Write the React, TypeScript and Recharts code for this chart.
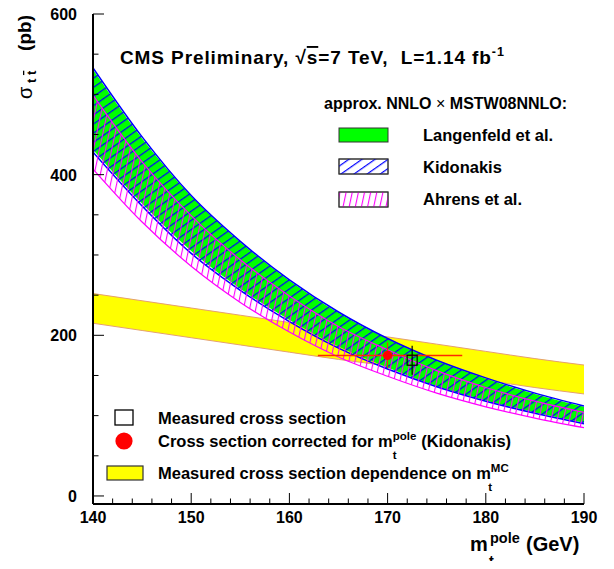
import React from "react"
import { ComposedChart, Area, Scatter, ErrorBar, XAxis, YAxis } from "recharts"

// top mass (GeV) and cross sections (pb)
const masses = [140, 145, 150, 155, 160, 165, 170, 175, 180, 185, 190]
const langenfeldLow = [431, 364, 305, 258, 219, 186, 160, 137, 119, 104, 91]
const langenfeldHigh = [531, 445, 373, 316, 268, 228, 195, 168, 146, 127, 111]
const kidonakisLow = [428, 361, 302, 256, 217, 184, 158, 136, 118, 103, 90]
const kidonakisHigh = [533, 447, 374, 317, 269, 229, 196, 169, 147, 128, 112]
const ahrensLow = [407, 341, 286, 241, 204, 173, 149, 128, 111, 97, 85]
const ahrensHigh = [499, 416, 349, 294, 249, 211, 182, 156, 135, 118, 104]
const measuredLow = [215, 206, 197, 188, 179, 170, 162, 153, 144, 135, 127]
const measuredHigh = [252, 243, 234, 225, 216, 207, 198, 189, 180, 171, 163]

const measuredPoint = [{ m: 172.5, v: 169, ey: 18 }]
const correctedPoint = [{ m: 170, v: 175, ex: [7.1, 7.6], ey: 16 }]

const xTicks = [140, 142, 144, 146, 148, 150, 152, 154, 156, 158, 160, 162, 164, 166, 168, 170, 172, 174, 176, 178, 180, 182, 184, 186, 188, 190]
const yTicks = [0, 50, 100, 150, 200, 250, 300, 350, 400, 450, 500, 550, 600]

const font = "'Liberation Sans', Arial, Helvetica, sans-serif"

const bandData = masses.map((m, i) => ({
  m,
  lang: [langenfeldLow[i], langenfeldHigh[i]],
  kid: [kidonakisLow[i], kidonakisHigh[i]],
  ahr: [ahrensLow[i], ahrensHigh[i]],
  meas: [measuredLow[i], measuredHigh[i]],
}))

function XTick(props: any) {
  const { x, y, payload } = props
  const major = payload.value % 10 === 0
  return (
    <g>
      <line x1={x} x2={x} y1={y} y2={y - (major ? 11 : 5.5)} stroke="#000" strokeWidth={1} />
      {major && (
        <text x={x} y={y + 19} textAnchor="middle" fontSize={16} fontWeight="bold" fontFamily={font}>
          {payload.value}
        </text>
      )}
    </g>
  )
}

function YTick(props: any) {
  const { x, y, payload } = props
  const major = payload.value % 200 === 0
  return (
    <g>
      <line x1={x} x2={x + (major ? 11 : 5.5)} y1={y} y2={y} stroke="#000" strokeWidth={1} />
      {major && (
        <text x={x - 16} y={y + 6} textAnchor="end" fontSize={16} fontWeight="bold" fontFamily={font}>
          {payload.value}
        </text>
      )}
    </g>
  )
}

const txt = { fontFamily: font, fontWeight: "bold" as const, xmlSpace: "preserve" }

export default function App() {
  return (
    <div style={{ position: "relative", width: 600, height: 561, marginTop: -8 }}>
      <svg width={0} height={0} style={{ position: "absolute" }}>
        <defs>
          <pattern id="hatchBlue" patternUnits="userSpaceOnUse" width={7.5} height={7.5} patternTransform="rotate(-35)">
            <rect x={0} y={0} width={7.5} height={1.2} fill="#0000ff" />
          </pattern>
          <pattern id="hatchMag" patternUnits="userSpaceOnUse" width={6} height={6} patternTransform="rotate(12)">
            <rect x={0} y={0} width={1.1} height={6} fill="#ff00ff" />
          </pattern>
        </defs>
      </svg>
      <ComposedChart width={600} height={561} data={bandData} margin={{ top: 14, right: 24, bottom: 27, left: 25 }}>
        <XAxis
          dataKey="m"
          type="number"
          domain={[140, 190]}
          allowDataOverflow
          ticks={xTicks}
          interval={0}
          tick={XTick}
          tickLine={false}
          tickSize={0}
          tickMargin={0}
          height={30}
          axisLine={{ stroke: "#000", strokeWidth: 2 }}
        />
        <XAxis xAxisId="top" orientation="top" type="number" domain={[140, 190]} tick={false} tickLine={false} height={0} axisLine={{ stroke: "#000", strokeWidth: 1.2 }} />
        <YAxis
          type="number"
          domain={[-10, 600]}
          allowDataOverflow
          ticks={yTicks}
          interval={0}
          tick={YTick}
          tickLine={false}
          tickSize={0}
          tickMargin={0}
          width={60}
          axisLine={{ stroke: "#000", strokeWidth: 2 }}
        />
        <YAxis yAxisId="right" orientation="right" type="number" domain={[-10, 600]} tick={false} tickLine={false} width={0} axisLine={{ stroke: "#000", strokeWidth: 1.2 }} />

        <Area dataKey="meas" type="monotone" fill="#ffff00" fillOpacity={1} stroke="#e5a070" strokeWidth={1} isAnimationActive={false} />
        <Area dataKey="lang" type="monotone" fill="#00ff00" fillOpacity={1} stroke="none" isAnimationActive={false} />
        <Area dataKey="kid" type="monotone" fill="url(#hatchBlue)" fillOpacity={1} stroke="#0000ff" strokeWidth={1.5} isAnimationActive={false} />
        <Area dataKey="ahr" type="monotone" fill="url(#hatchMag)" fillOpacity={1} stroke="#ff00ff" strokeWidth={1.2} isAnimationActive={false} />

        <Scatter
          data={correctedPoint}
          dataKey="v"
          isAnimationActive={false}
          shape={(p: any) => <circle cx={p.cx} cy={p.cy} r={4.7} fill="#ff0000" />}
        >
          <ErrorBar dataKey="ex" direction="x" width={0} stroke="#ff2a00" strokeWidth={1.5} />
          <ErrorBar dataKey="ey" direction="y" width={0} stroke="#ff2a00" strokeWidth={1} />
        </Scatter>
        <Scatter
          data={measuredPoint}
          dataKey="v"
          isAnimationActive={false}
          shape={(p: any) => <rect x={p.cx - 5} y={p.cy - 5} width={10} height={10} fill="none" stroke="#000" strokeWidth={1.2} />}
        >
          <ErrorBar dataKey="ey" direction="y" width={0} stroke="#000" strokeWidth={1.2} />
        </Scatter>
      </ComposedChart>

      <svg width={614} height={569} style={{ position: "absolute", left: -8, top: 0, pointerEvents: "none" }}>
        <text x={120} y={64} fontSize={19} letterSpacing={0.9} {...txt}>
          CMS Preliminary, √<tspan textDecoration="overline">s</tspan>=7 TeV,  L=1.14 fb<tspan dy={-8} fontSize={12.5}>-1</tspan>
        </text>

        <text x={324} y={109} fontSize={16} {...txt}>
          approx. NNLO <tspan fontWeight="normal">×</tspan> MSTW08NNLO:
        </text>
        <rect x={339} y={128} width={49} height={14} fill="#00ff00" stroke="#333" strokeWidth={1} />
        <text x={423} y={141} fontSize={16.5} {...txt}>Langenfeld et al.</text>
        <rect x={339} y={159} width={49} height={15} fill="#fff" stroke="#333" strokeWidth={1} />
        <rect x={339} y={159} width={49} height={15} fill="url(#hatchBlue)" stroke="#333" strokeWidth={1} />
        <text x={423} y={173} fontSize={16.5} {...txt}>Kidonakis</text>
        <rect x={339} y={192} width={49} height={15} fill="#fff" stroke="#333" strokeWidth={1} />
        <rect x={339} y={192} width={49} height={15} fill="url(#hatchMag)" stroke="#333" strokeWidth={1} />
        <text x={423} y={205} fontSize={16.5} {...txt}>Ahrens et al.</text>

        <rect x={115} y={410} width={18} height={15} fill="#fff" stroke="#000" strokeWidth={1.3} />
        <text x={158} y={424} fontSize={16.5} {...txt}>Measured cross section</text>
        <circle cx={124} cy={441} r={8.6} fill="#ff0000" />
        <text x={158} y={447} fontSize={16.5} {...txt}>
          Cross section corrected for m<tspan dy={-7} fontSize={11.5}>pole</tspan><tspan dx={-23.6} dy={19} fontSize={11.5}>t</tspan><tspan dx={20} dy={-12}> (Kidonakis)</tspan>
        </text>
        <rect x={107} y={466} width={36} height={14} fill="#ffff00" stroke="#333" strokeWidth={1.2} />
        <text x={158} y={479} fontSize={16.5} {...txt}>
          Measured cross section dependence on m<tspan dy={-7} fontSize={11.5}>MC</tspan><tspan dx={-20.5} dy={19} fontSize={11.5}>t</tspan>
        </text>

        <text x={470} y={551} fontSize={20} {...txt}>m</text>
        <text x={490} y={543} fontSize={14.5} {...txt}>pole</text>
        <text x={489} y={566} fontSize={14.5} {...txt}>t</text>
        <text x={526} y={551} fontSize={20} {...txt}>(GeV)</text>

        <text transform="translate(32,99) rotate(-90)" fontSize={20} fontFamily={font}>σ</text>
        <text transform="translate(36,83) rotate(-90)" fontSize={13} {...txt}>
          t <tspan textDecoration="overline">t</tspan>
        </text>
        <text transform="translate(31,15) rotate(-90)" fontSize={19} textAnchor="end" {...txt}>(pb)</text>
      </svg>
    </div>
  )
}
